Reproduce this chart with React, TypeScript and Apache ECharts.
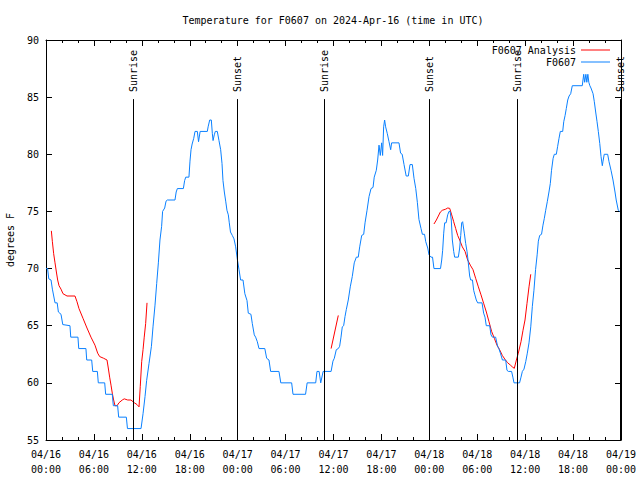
import React, { useEffect, useRef } from "react";
import * as echarts from "echarts";

// hours since 2024-04-16 00:00 UTC
const xTickLabels = [
  "04/16\n00:00", "04/16\n06:00", "04/16\n12:00", "04/16\n18:00",
  "04/17\n00:00", "04/17\n06:00", "04/17\n12:00", "04/17\n18:00",
  "04/18\n00:00", "04/18\n06:00", "04/18\n12:00", "04/18\n18:00",
  "04/19\n00:00",
];

const sunHours = [10.95, 23.93, 34.87, 47.93, 58.93, 71.93];
const sunLabels = ["Sunrise", "Sunset", "Sunrise", "Sunset", "Sunrise", "Sunset"];

const observed: [number, number][] = [
  [0.0, 70.0], [0.2, 70.0], [0.35, 69.1], [0.63, 69.0], [0.8, 68.2], [1.13, 67.0], [1.4, 67.0],
  [1.55, 66.2], [1.88, 66.0], [2.1, 65.1], [3.0, 65.0], [3.1, 64.0], [4.0, 64.0], [4.1, 63.0],
  [5.0, 63.0], [5.1, 62.0], [5.72, 62.0], [5.85, 61.0], [6.43, 61.0], [6.55, 60.0], [7.35, 60.0],
  [7.47, 59.0], [8.3, 59.0], [8.43, 58.0], [8.97, 58.0], [9.1, 57.0], [10.06, 57.0], [10.2, 56.0],
  [11.9, 56.0], [12.15, 57.3], [12.4, 58.8], [12.6, 60.2], [12.9, 61.7], [13.2, 63.2], [13.4, 64.9],
  [13.65, 66.8], [13.86, 68.7], [14.07, 70.5], [14.27, 72.5], [14.48, 73.7], [14.6, 75.0],
  [14.86, 75.3], [15.03, 75.9], [15.2, 76.0], [16.15, 76.0], [16.3, 76.7], [16.45, 77.0],
  [17.2, 77.0], [17.36, 77.7], [17.5, 78.0], [17.9, 78.0], [18.03, 79.4], [18.16, 80.4],
  [18.3, 80.9], [18.5, 81.4], [18.66, 82.0], [18.95, 82.0], [19.1, 81.1], [19.3, 82.0],
  [20.2, 82.0], [20.3, 82.4], [20.5, 83.0], [20.7, 83.0], [20.83, 81.8], [20.92, 81.2],
  [21.07, 81.7], [21.2, 82.0], [21.45, 82.0], [21.66, 81.2], [21.87, 80.4], [22.04, 79.2],
  [22.16, 77.7], [22.33, 76.7], [22.5, 75.9], [22.66, 75.1], [22.83, 74.7], [22.95, 74.0],
  [23.1, 73.2], [23.33, 72.9], [23.54, 72.6], [23.75, 71.9], [23.96, 70.8], [24.17, 69.9],
  [24.37, 69.0], [24.67, 69.0], [24.9, 67.8], [25.17, 67.2], [25.33, 66.1], [25.66, 66.0],
  [25.83, 65.2], [26.08, 64.2], [26.25, 64.0], [26.46, 63.6], [26.67, 63.0], [27.4, 63.0],
  [27.63, 62.15], [27.92, 62.0], [28.13, 61.0], [29.17, 61.0], [29.4, 60.0], [30.76, 60.0],
  [30.93, 59.0], [32.5, 59.0], [32.7, 60.0], [33.77, 60.0], [33.93, 61.0], [34.2, 61.0],
  [34.4, 60.0], [34.7, 61.0], [35.7, 61.0], [35.93, 61.9], [36.1, 62.15], [36.35, 62.9],
  [36.6, 63.0], [36.77, 63.2], [36.94, 64.0], [37.1, 64.9], [37.27, 65.0], [37.44, 65.8],
  [37.6, 66.4], [37.85, 67.25], [38.1, 68.4], [38.35, 69.3], [38.6, 70.5], [38.86, 71.0],
  [39.1, 71.0], [39.28, 71.9], [39.53, 72.9], [39.78, 73.0], [39.95, 74.0], [40.2, 75.1],
  [40.45, 76.3], [40.7, 77.0], [40.95, 77.1], [41.1, 78.0], [41.36, 78.6], [41.53, 79.5],
  [41.7, 80.8], [41.86, 79.9], [42.03, 81.0], [42.15, 79.9], [42.28, 82.4], [42.4, 83.0],
  [42.53, 82.4], [42.74, 81.8], [42.95, 81.1], [43.16, 80.4], [43.28, 81.0], [44.2, 81.0],
  [44.4, 80.1], [44.6, 80.0], [44.83, 79.1], [45.1, 78.1], [45.37, 78.1], [45.58, 79.1],
  [45.87, 79.1], [46.08, 77.9], [46.3, 77.0], [46.5, 75.8], [46.7, 74.3], [46.96, 73.5],
  [47.13, 73.0], [47.4, 73.0], [47.55, 72.35], [47.8, 71.8], [47.96, 71.2], [48.2, 71.0],
  [48.4, 71.0], [48.58, 70.0], [49.4, 70.0], [49.55, 70.75], [49.67, 71.6], [49.8, 73.1],
  [49.92, 74.0], [50.1, 74.0], [50.3, 74.7], [50.46, 75.0], [50.6, 75.0], [50.75, 74.25],
  [50.88, 72.5], [51.05, 71.5], [51.17, 71.0], [51.63, 71.0], [51.8, 71.8], [51.93, 72.9],
  [52.05, 74.0], [52.17, 74.1], [52.38, 73.1], [52.55, 72.2], [52.72, 71.5], [52.88, 70.5],
  [53.05, 69.35], [53.18, 69.0], [53.4, 69.0], [53.55, 68.1], [53.7, 67.7], [53.88, 67.25],
  [54.05, 67.0], [54.6, 67.0], [54.8, 66.1], [54.97, 65.75], [55.13, 65.0], [55.56, 65.0],
  [55.72, 64.2], [55.9, 64.0], [56.3, 64.0], [56.55, 63.2], [56.7, 63.0], [56.9, 62.6],
  [57.15, 62.0], [57.56, 62.0], [57.72, 61.1], [57.9, 61.0], [58.3, 61.0], [58.46, 60.5],
  [58.6, 60.0], [59.3, 60.0], [59.48, 60.5], [59.65, 61.0], [59.85, 61.2], [60.07, 61.85],
  [60.27, 62.6], [60.48, 63.5], [60.7, 64.9], [60.9, 66.7], [61.1, 68.1], [61.3, 69.9],
  [61.5, 71.2], [61.65, 72.4], [61.82, 72.9], [62.05, 73.0], [62.23, 73.8], [62.4, 74.4],
  [62.57, 75.1], [62.77, 75.85], [62.98, 76.7], [63.15, 77.45], [63.3, 78.6], [63.5, 79.65],
  [63.65, 80.0], [63.9, 80.0], [64.07, 80.7], [64.24, 81.4], [64.4, 82.0], [64.7, 82.0],
  [64.83, 82.85], [65.0, 83.4], [65.15, 84.0], [65.33, 84.75], [65.5, 85.1], [65.7, 85.3],
  [65.9, 86.0], [67.15, 86.0], [67.33, 87.0], [67.45, 86.3], [67.6, 87.0], [67.72, 86.3],
  [67.85, 87.0], [67.97, 86.3], [68.1, 86.0], [68.24, 85.8], [68.5, 85.3], [68.66, 84.6],
  [68.83, 83.7], [69.0, 82.85], [69.16, 82.0], [69.34, 80.95], [69.5, 79.8], [69.66, 79.0],
  [69.75, 79.4], [69.9, 80.0], [70.33, 80.0], [70.5, 79.35], [70.75, 78.6], [71.0, 77.75],
  [71.25, 76.7], [71.4, 76.0], [71.66, 75.1], [71.85, 75.0],
];

const analysis1: [number, number][] = [
  [0.67, 73.3], [0.8, 72.35], [0.96, 71.3], [1.13, 70.5], [1.3, 69.7], [1.46, 69.0], [1.63, 68.5],
  [1.88, 68.2], [2.13, 67.8], [2.63, 67.6], [3.63, 67.6], [3.88, 67.1], [4.13, 66.5], [4.63, 65.65],
  [5.13, 64.8], [5.63, 64.0], [6.13, 63.3], [6.47, 62.6], [6.72, 62.3], [7.22, 62.15], [7.64, 62.0],
  [7.8, 61.3], [7.97, 60.5], [8.14, 59.8], [8.3, 59.1], [8.47, 58.5], [8.64, 58.0], [8.9, 58.0],
  [9.14, 58.26], [9.55, 58.5], [9.8, 58.6], [10.23, 58.5], [10.64, 58.5], [11.06, 58.26],
  [11.4, 58.1], [11.65, 57.9], [11.8, 59.66], [11.98, 61.85], [12.15, 62.9], [12.3, 64.0],
  [12.48, 65.2], [12.65, 67.0],
];
const analysis2: [number, number][] = [[35.7, 63.0], [36.6, 65.9]];
const analysis3: [number, number][] = [
  [48.58, 73.9], [48.88, 74.25], [49.13, 74.6], [49.38, 74.95], [49.63, 75.1], [50.05, 75.2],
  [50.3, 75.3], [50.55, 75.27], [50.8, 74.7], [51.05, 74.1], [51.3, 73.5], [51.55, 72.9],
  [51.8, 72.5], [52.13, 71.9], [52.47, 71.5], [52.8, 70.75], [53.13, 70.3], [53.47, 69.9],
  [53.8, 69.15], [54.14, 68.4], [54.47, 67.7], [54.8, 66.96], [55.14, 66.2], [55.47, 65.35],
  [55.8, 64.5], [56.14, 63.9], [56.47, 63.3], [56.8, 62.9], [57.14, 62.4], [57.47, 62.06],
  [57.8, 61.76], [58.14, 61.56], [58.39, 61.4], [58.64, 61.27], [58.9, 62.0], [59.14, 62.6],
  [59.48, 63.6], [59.73, 64.6], [59.98, 65.5], [60.23, 66.96], [60.48, 68.4], [60.7, 69.5],
];

const FONT = '"DejaVu Sans Mono", "Liberation Mono", monospace';
const Y_MIN = 55;
const Y_MAX = 90;

export default function App() {
  const ref = useRef<HTMLDivElement>(null);
  useEffect(() => {
    if (!ref.current) return;
    const chart = echarts.init(ref.current, null, { renderer: "svg" });
    const baseX = {
      type: "value",
      min: 0,
      max: 72,
      interval: 6,
      axisLine: { show: true, onZero: false, lineStyle: { color: "#000", width: 1 } },
      axisTick: { show: true, inside: true, length: 6, lineStyle: { color: "#000" } },
      minorTick: { show: true, splitNumber: 3, length: 3, lineStyle: { color: "#000" } },
      splitLine: { show: false },
      minorSplitLine: { show: false },
    };
    const baseY = {
      type: "value",
      min: Y_MIN,
      max: Y_MAX,
      interval: 5,
      axisLine: { show: true, onZero: false, lineStyle: { color: "#000", width: 1 } },
      axisTick: { show: true, inside: true, length: 6, lineStyle: { color: "#000" } },
      splitLine: { show: false },
    };
    const analysisSeries = [analysis1, analysis2, analysis3].map((d) => ({
      name: "F0607 Analysis",
      type: "line",
      data: d,
      symbol: "none",
      color: "#ff0000",
      lineStyle: { width: 1, color: "#ff0000" },
      z: 2,
    }));
    chart.setOption({
      animation: false,
      backgroundColor: "#fff",
      textStyle: { fontFamily: FONT },
      grid: {
        left: 46,
        right: 19,
        top: 40,
        bottom: 40,
        containLabel: false,
        outerBoundsMode: "none",
      },
      graphic: [
        {
          type: "text",
          x: 333,
          y: 20,
          style: {
            text: "Temperature for F0607 on 2024-Apr-16 (time in UTC)",
            font: `10px ${FONT}`,
            fill: "#000",
            textAlign: "center",
            textVerticalAlign: "middle",
          },
        },
      ],
      legend: {
        data: ["F0607 Analysis", "F0607"],
        orient: "vertical",
        right: 30,
        top: 44,
        align: "right",
        icon: "rect",
        itemWidth: 29,
        itemHeight: 1,
        itemGap: 0,
        padding: 0,
        textStyle: { fontFamily: FONT, fontSize: 10, color: "#000", lineHeight: 12 },
      },
      xAxis: [
        {
          ...baseX,
          position: "bottom",
          axisLabel: {
            formatter: (v: number) => xTickLabels[Math.round(v / 6)],
            color: "#000",
            fontFamily: FONT,
            fontSize: 10,
            lineHeight: 15,
            margin: 7,
          },
        },
        { ...baseX, position: "top", axisLabel: { show: false } },
      ],
      yAxis: [
        {
          ...baseY,
          position: "left",
          name: "degrees F",
          nameLocation: "middle",
          nameGap: 31,
          nameRotate: 90,
          nameTextStyle: { fontFamily: FONT, fontSize: 10, color: "#000" },
          axisLabel: { color: "#000", fontFamily: FONT, fontSize: 10, margin: 7 },
        },
        { ...baseY, position: "right", axisLabel: { show: false } },
      ],
      series: [
        ...analysisSeries,
        {
          name: "F0607",
          type: "line",
          data: observed,
          symbol: "none",
          color: "#0a80ff",
          lineStyle: { width: 1, color: "#0a80ff" },
          z: 3,
        },
        {
          name: "sun",
          type: "custom",
          data: sunHours.map((h) => [h, Y_MIN]),
          clip: false,
          z: 4,
          renderItem: (params: any, api: any) => {
            const h = api.value(0);
            const bottom = api.coord([h, Y_MIN]);
            const top = api.coord([h, 84.83]);
            const x = Math.round(bottom[0]) + 0.5;
            return {
              type: "group",
              children: [
                {
                  type: "line",
                  shape: { x1: x, y1: bottom[1], x2: x, y2: top[1] },
                  style: { stroke: "#000", lineWidth: 1 },
                },
                {
                  type: "text",
                  x: x,
                  y: top[1] - 7,
                  rotation: Math.PI / 2,
                  style: {
                    text: sunLabels[params.dataIndex],
                    font: `10px ${FONT}`,
                    fill: "#000",
                    align: "left",
                    verticalAlign: "middle",
                  },
                },
              ],
            };
          },
        },
      ],
    });
    return () => chart.dispose();
  }, []);
  return (
    <div
      ref={ref}
      style={{ position: "fixed", left: 0, top: 0, width: 640, height: 480, background: "#fff" }}
    />
  );
}
